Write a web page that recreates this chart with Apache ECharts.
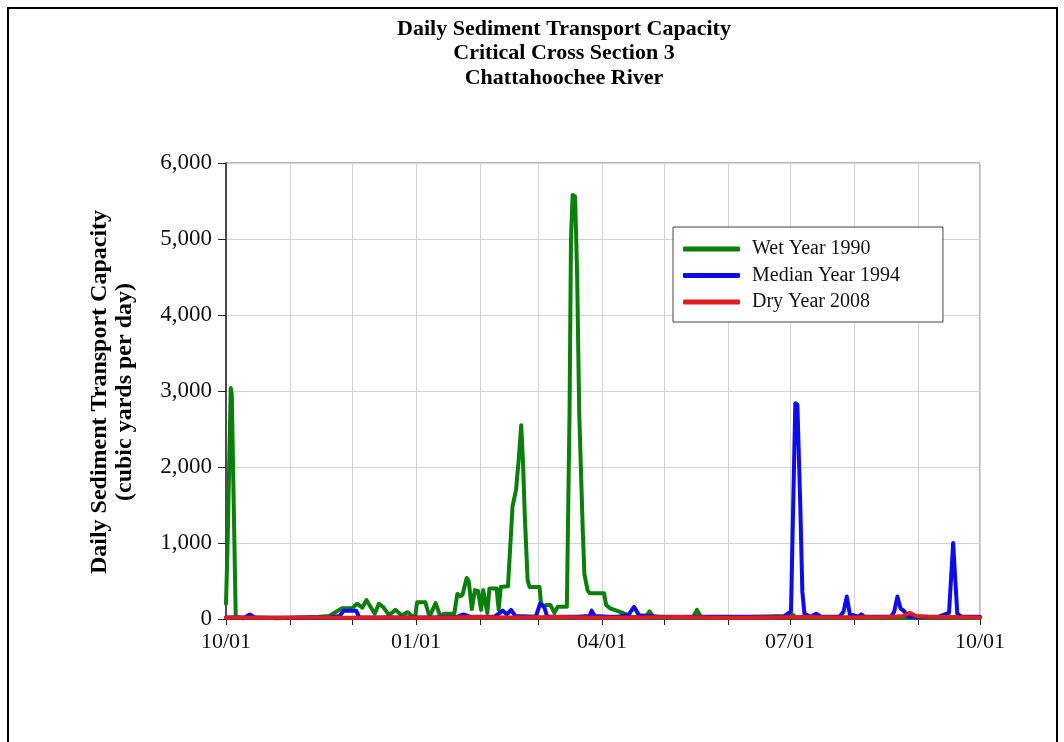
<!DOCTYPE html>
<html>
<head>
<meta charset="utf-8">
<script src="https://cdn.jsdelivr.net/npm/echarts@6/dist/echarts.min.js"></script>
<style>
  html, body { margin: 0; padding: 0; background: #fff; }
  #chart { width: 1064px; height: 742px; }
</style>
</head>
<body>
<div id="chart"></div>
<script>
// ---- Data (x = days since 10/01, y = cubic yards per day) ----
const titleLines = ['Daily Sediment Transport Capacity', 'Critical Cross Section 3', 'Chattahoochee River'];
const yAxisNameLines = ['Daily Sediment Transport Capacity', '(cubic yards per day)'];
const seriesNames = ['Wet Year 1990', 'Median Year 1994', 'Dry Year 2008'];

const monthStartDays = [0, 31, 61, 92, 123, 151, 182, 212, 243, 273, 304, 335, 365];
const xLabelDays = [0, 92, 182, 273, 365];
const xLabelTexts = ['10/01', '01/01', '04/01', '07/01', '10/01'];
const yTicks = [0, 1000, 2000, 3000, 4000, 5000, 6000];

const wet1990 = [
  [0,200],[0.7,900],[2.3,3040],[2.8,2950],[4.7,30],[8,10],[15,20],[25,10],[35,20],[45,30],
  [50,40],[53,90],[56,140],[61,140],[63.5,200],[66,150],[68,250],[72,70],[74,200],[76,160],
  [79,50],[82,120],[85,50],[88,90],[91.5,10],[92.5,220],[96.5,220],[98.5,30],[101.5,210],[103.5,50],
  [106,70],[110.5,70],[112,330],[113.5,300],[114.5,320],[116.5,540],[117.5,500],[119,130],[120.5,380],[122,370],
  [123.5,120],[124.5,380],[126.5,80],[127.5,400],[131,400],[132,120],[133,420],[136.5,430],[138.7,1480],[140.4,1700],
  [141.8,2130],[142.9,2550],[143.8,2050],[144.6,1390],[146,510],[147,420],[151.8,420],[152.5,210],[154,160],[155,185],
  [157,185],[159,80],[160.5,160],[165,160],[166.3,2700],[167,5000],[167.8,5580],[169,5560],[170,4500],[171,2700],
  [172.7,1170],[173.5,590],[175,380],[176,340],[183,340],[184,185],[186,140],[188,120],[192,80],[196,30],
  [203,20],[205,100],[207,20],[215,20],[226,20],[228,120],[230,20],[240,20],[260,30],[270,40],
  [274,60],[276,20],[300,20],[330,20],[365,20]
];
const median1994 = [
  [0,20],[9,20],[11.5,60],[14,20],[30,15],[50,20],[55,40],[57,110],[63,110],[64.5,20],
  [80,20],[100,20],[112,30],[115,60],[118,30],[130,30],[134,110],[136,60],[138,120],[140,40],
  [150,30],[152,200],[154,160],[155.5,30],[170,30],[176,40],[177,110],[178.5,40],[185,30],[190,30],
  [195,60],[197.5,160],[200,50],[210,30],[240,30],[270,30],[273.5,100],[275.6,2840],[276.6,2820],[278,1500],
  [279,360],[280,70],[283,30],[285.7,70],[288,30],[297,30],[299,100],[300.5,295],[302,60],[306.5,30],
  [307.5,60],[309,30],[322,30],[323.5,100],[325,295],[326.5,140],[328.4,100],[330,30],[345,30],[350,80],
  [352,1000],[354,70],[356,30],[365,30]
];
const dry2008 = [
  [0,20],[20,15],[40,20],[60,15],[80,20],[100,15],[120,25],[140,20],[160,25],[180,15],
  [200,20],[220,25],[240,15],[260,20],[280,25],[300,20],[320,25],[328,40],[331,80],[334,40],
  [340,30],[365,20]
];
const seriesColors = ['#0b7f0b', '#0c0cee', '#e21c1c'];

// ---- Chart ----
const chart = echarts.init(document.getElementById('chart'), null, { renderer: 'canvas' });
const serif = '"Liberation Serif", "DejaVu Serif", serif';

function fmtThousands(v) {
  return String(v).replace(/\B(?=(\d{3})+(?!\d))/g, ',');
}

const option = {
  animation: false,
  backgroundColor: '#ffffff',
  graphic: [
    {
      type: 'rect', silent: true, z: 0,
      shape: { x: 8, y: 8, width: 1049, height: 800 },
      style: { fill: 'none', stroke: '#000', lineWidth: 2 }
    },
    {
      type: 'text', silent: true,
      x: 564, y: 17,
      style: {
        text: titleLines.join('\n'),
        fontFamily: serif,
        fontWeight: 'bold',
        fontSize: 22,
        fill: '#000',
        align: 'center',
        verticalAlign: 'top',
        lineHeight: 24.5
      }
    },
    {
      type: 'text', silent: true,
      x: 112, y: 392,
      rotation: Math.PI / 2,
      style: {
        text: yAxisNameLines.join('\n'),
        fontFamily: serif,
        fontWeight: 'bold',
        fontSize: 24,
        fill: '#000',
        align: 'center',
        verticalAlign: 'middle',
        lineHeight: 25
      }
    }
  ],
  grid: {
    left: 226, top: 163, right: 84, bottom: 123,
    show: true, borderColor: '#7a7a7a', borderWidth: 1, backgroundColor: 'transparent'
  },
  legend: {
    orient: 'vertical',
    left: 673, top: 227,
    padding: [12, 43, 10, 10],
    itemGap: 6.5,
    itemWidth: 57, itemHeight: 5,
    icon: 'roundRect',
    borderColor: '#444', borderWidth: 1, backgroundColor: '#fff',
    textStyle: { fontFamily: serif, fontSize: 20, color: '#111', padding: [0, 0, 0, 7], lineHeight: 20 },
    data: seriesNames
  },
  xAxis: {
    type: 'value',
    min: 0, max: 365,
    axisLine: { show: true, onZero: false, lineStyle: { color: '#222', width: 1.5 } },
    axisTick: { show: true, length: 6, customValues: monthStartDays, lineStyle: { color: '#222' } },
    axisLabel: {
      customValues: xLabelDays,
      showMinLabel: true, showMaxLabel: true,
      margin: 12,
      fontFamily: serif, fontSize: 22, color: '#111',
      formatter: function (v) {
        const i = xLabelDays.indexOf(Math.round(v));
        return i >= 0 ? xLabelTexts[i] : '';
      }
    },
    splitLine: { show: true, lineStyle: { color: '#d2d2d2', width: 1 } }
  },
  yAxis: {
    type: 'value',
    min: yTicks[0], max: yTicks[yTicks.length - 1], interval: yTicks[1] - yTicks[0],
    axisLine: { show: true, lineStyle: { color: '#222', width: 1.5 } },
    axisTick: { show: true, length: 8, lineStyle: { color: '#222' } },
    axisLabel: {
      margin: 14,
      fontFamily: serif, fontSize: 23, color: '#111',
      formatter: fmtThousands
    },
    splitLine: { show: true, lineStyle: { color: '#d2d2d2', width: 1 } }
  },
  series: [
    { name: seriesNames[0], data: wet1990 },
    { name: seriesNames[1], data: median1994 },
    { name: seriesNames[2], data: dry2008 }
  ].map(function (s, i) {
    return {
      name: s.name,
      type: 'line',
      data: s.data,
      showSymbol: false,
      symbol: 'none',
      color: seriesColors[i],
      lineStyle: { color: seriesColors[i], width: 4, join: 'round', cap: 'round' },
      z: 2 + i
    };
  })
};

chart.setOption(option);
</script>
</body>
</html>
